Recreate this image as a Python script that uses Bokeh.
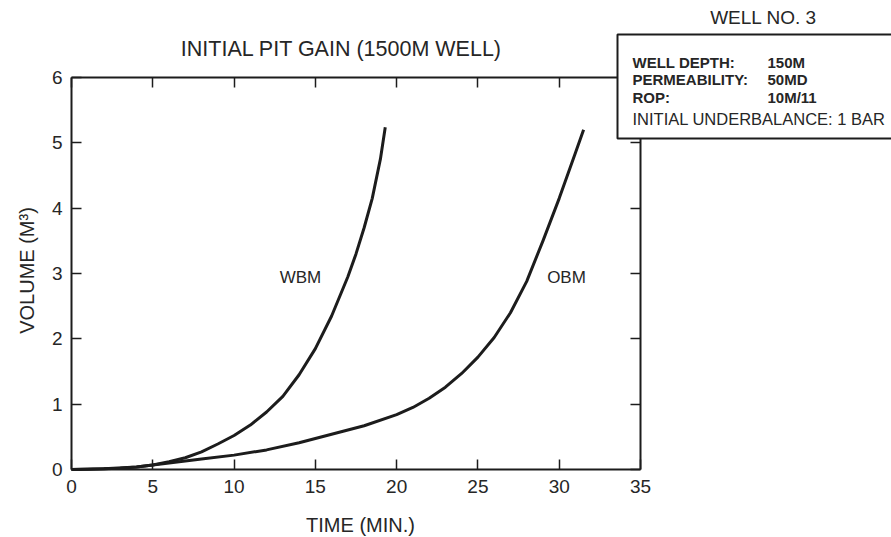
import math
from bokeh.plotting import figure
from bokeh.models import (Label, BoxAnnotation, LinearAxis, FixedTicker, Range1d,
                          CustomJSTickFormatter)
from bokeh.embed import file_html
from bokeh.resources import INLINE

# ---- data ----
wbm_time = [0, 1, 2, 3, 4, 5, 6, 7, 8, 9, 10, 11, 12, 13, 14, 15, 16, 17, 17.5, 18, 18.5, 19, 19.3]
wbm_volume = [0, 0.003, 0.01, 0.02, 0.04, 0.07, 0.12, 0.18, 0.27, 0.39, 0.52, 0.68, 0.88,
              1.12, 1.45, 1.85, 2.35, 2.95, 3.3, 3.7, 4.15, 4.75, 5.24]

obm_time = [0, 2, 4, 6, 8, 10, 12, 14, 16, 18, 20, 21, 22, 23, 24, 25, 26, 27, 28, 29, 30, 31, 31.5]
obm_volume = [0, 0.01, 0.04, 0.1, 0.16, 0.22, 0.3, 0.41, 0.54, 0.67, 0.84, 0.95, 1.09,
              1.26, 1.47, 1.72, 2.02, 2.4, 2.88, 3.5, 4.15, 4.85, 5.2]

x_ticks = [0, 5, 10, 15, 20, 25, 30, 35]
y_ticks = [0, 1, 2, 3, 4, 5, 6]

title_text = "INITIAL PIT GAIN (1500M WELL)"
x_label = "TIME (MIN.)"
y_label = "VOLUME (M\u00b3)"
box_title = "WELL NO. 3"
box_keys = ["WELL DEPTH:", "PERMEABILITY:", "ROP:"]
box_vals = ["150M", "50MD", "10M/11"]
box_last = "INITIAL UNDERBALANCE: 1 BAR"

# ---- layout: axes box edges in figure pixels ----
W, H = 891, 537
AL, AR, AT, AB = 71, 640, 77, 469
X0, X1, Y0, Y1 = 0, 35, 0, 6
sx = (AR - AL) / (X1 - X0)
sy = (AB - AT) / (Y1 - Y0)

FONT = "Liberation Sans"
TXT = "#262626"
INK = "#1c1c1c"


def dx(px):  # figure px -> data x
    return X0 + (px - AL) / sx


def dy(py):  # figure px -> data y
    return Y0 + (AB - py) / sy


p = figure(width=W, height=H, output_backend="svg", toolbar_location=None,
           x_range=Range1d(dx(0), dx(W)), y_range=Range1d(dy(H), dy(0)),
           x_axis_location=None, y_axis_location=None, min_border=0)
p.grid.visible = False
p.outline_line_color = None
p.background_fill_color = "white"
p.border_fill_color = "white"


def make_axis(ticks, loc, bounds, labels=True):
    ax = LinearAxis(ticker=FixedTicker(ticks=ticks), fixed_location=loc, bounds=bounds)
    ax.axis_line_color = INK
    ax.axis_line_width = 2
    ax.major_tick_line_color = INK
    ax.major_tick_line_width = 1.5
    ax.major_tick_in = 10
    ax.major_tick_out = 0
    ax.minor_tick_line_color = None
    ax.major_label_text_font = FONT
    ax.major_label_text_font_size = "19px"
    ax.major_label_text_color = TXT
    if not labels:
        ax.formatter = CustomJSTickFormatter(code="return ''")
    return ax


xb = make_axis(x_ticks, Y0, (X0, X1))
xb.major_label_standoff = 10
p.add_layout(xb, "below")

yl = make_axis(y_ticks, X0, (Y0, Y1))
yl.major_label_standoff = 9
p.add_layout(yl, "left")

xt = make_axis(x_ticks, Y1, (X0, X1), labels=False)
p.add_layout(xt, "above")

yr = make_axis(y_ticks, X1, (Y0, Y1), labels=False)
p.add_layout(yr, "right")

# curves
p.line(wbm_time, wbm_volume, line_width=3, line_color=INK, line_join="round")
p.line(obm_time, obm_volume, line_width=3, line_color=INK, line_join="round")


def lab(px, py, text, size, align="center", style="normal", angle=0.0):
    p.add_layout(Label(x=dx(px), y=dy(py), text=text, text_align=align,
                       text_baseline="middle", text_font=FONT, text_font_size=size,
                       text_font_style=style, text_color=TXT, angle=angle))


lab(300, 277, "WBM", "17px")
lab(566, 277, "OBM", "17px")
lab(341, 48, title_text, "21.5px")
lab(360, 524, x_label, "20px")
lab(26, 270, y_label, "20px", angle=math.pi / 2)

# info box
p.add_layout(BoxAnnotation(left=dx(617), right=dx(920), top=dy(34), bottom=dy(138),
                           fill_color="white", fill_alpha=1.0,
                           line_color=INK, line_width=2, line_alpha=1.0))
lab(763, 17, box_title, "19px")
for k, v, ry in zip(box_keys, box_vals, [62, 79, 97]):
    lab(632, ry, k, "15px", align="left", style="bold")
    lab(767, ry, v, "15px", align="left", style="bold")
lab(632, 118, box_last, "16.5px", align="left")

open("out.html", "w").write(file_html(p, INLINE))
